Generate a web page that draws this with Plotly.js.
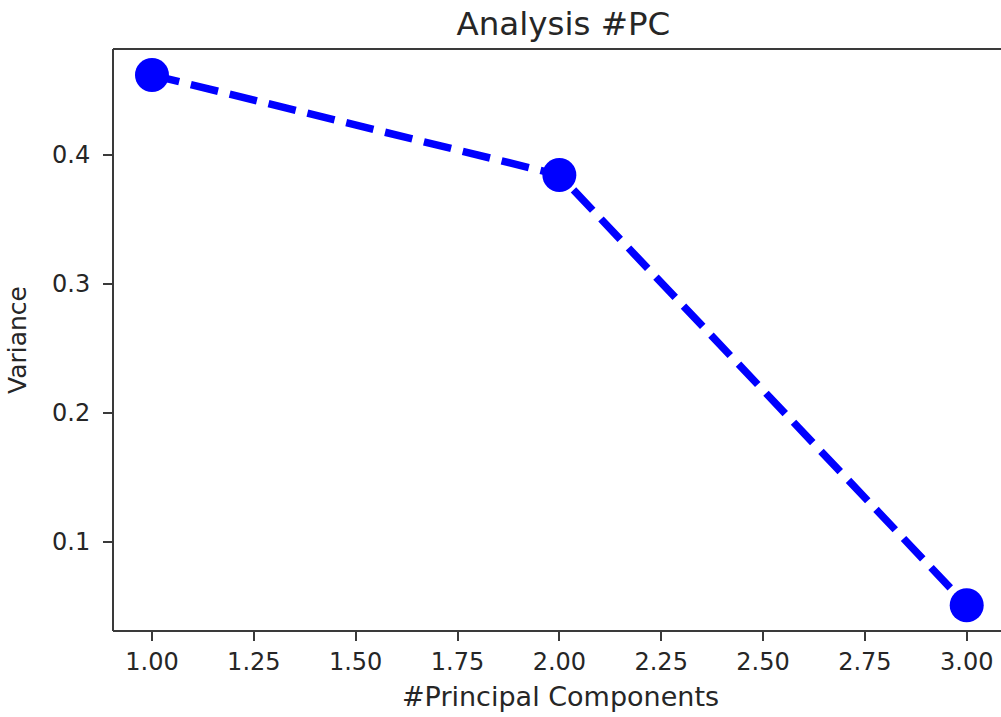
<!DOCTYPE html>
<html>
<head>
<meta charset="utf-8">
<script src="https://cdn.plot.ly/plotly-3.0.1.min.js"></script>
<style>html,body{margin:0;padding:0;background:#fff;overflow:hidden;}#wrap{width:1001px;height:717px;overflow:hidden;}#chart{width:1008px;height:717px;}</style>
</head>
<body>
<div id="wrap"><div id="chart"></div></div>
<script>
// Data
const components = [1, 2, 3];
const variance = [0.462, 0.3845, 0.051];
const xTickVals = [1.0, 1.25, 1.5, 1.75, 2.0, 2.25, 2.5, 2.75, 3.0];
const yTickVals = [0.1, 0.2, 0.3, 0.4];

const font = 'DejaVu Sans, sans-serif';
const textColor = '#262626';
const axisColor = '#3a3a3a';

const trace = {
  x: components,
  y: variance,
  type: 'scatter',
  mode: 'lines+markers',
  line: {color: '#0000ff', width: 7.5, dash: '28px,12px'},
  marker: {color: '#0000ff', size: 34, line: {width: 0}},
  hoverinfo: 'skip'
};

const spine = (x0, y0, x1, y1) => ({
  type: 'line', xref: 'paper', yref: 'paper', x0: x0, y0: y0, x1: x1, y1: y1,
  line: {color: axisColor, width: 2}, layer: 'above'
});

const layout = {
  width: 1008,
  height: 717,
  paper_bgcolor: '#ffffff',
  plot_bgcolor: '#ffffff',
  margin: {l: 112.7, r: 0, t: 49, b: 86.3, pad: 0},
  showlegend: false,
  font: {family: font, color: textColor, size: 24},
  title: {
    text: 'Analysis #PC',
    font: {family: font, size: 32.5, color: textColor},
    xref: 'container', x: 563.4/1008, xanchor: 'center',
    yref: 'container', y: 1 - 35/717, yanchor: 'bottom'
  },
  shapes: [spine(0, 0, 0, 1), spine(0, 1, 1, 1), spine(0, 0, 1, 0)],
  xaxis: {
    range: [0.9043, 0.9043 + (1008 - 112.7)/407.5],
    tickvals: xTickVals,
    ticktext: xTickVals.map(v => v.toFixed(2)),
    ticks: 'outside', ticklen: 9, tickwidth: 2, tickcolor: axisColor,
    showgrid: false, zeroline: false, showline: false,
    tickfont: {family: font, size: 24, color: textColor},
    title: {text: '#Principal Components', font: {family: font, size: 27, color: textColor}, standoff: 12},
    automargin: false
  },
  yaxis: {
    range: [0.031, 0.4822],
    tickvals: yTickVals,
    ticktext: yTickVals.map(v => v.toFixed(1)),
    ticks: 'outside', ticklen: 9, tickwidth: 2, tickcolor: axisColor,
    ticklabelstandoff: 8,
    showgrid: false, zeroline: false, showline: false,
    tickfont: {family: font, size: 24, color: textColor},
    title: {text: 'Variance', font: {family: font, size: 25, color: textColor}, standoff: 18},
    automargin: false
  }
};

Plotly.newPlot('chart', [trace], layout, {displayModeBar: false, staticPlot: true});
</script>
</body>
</html>
